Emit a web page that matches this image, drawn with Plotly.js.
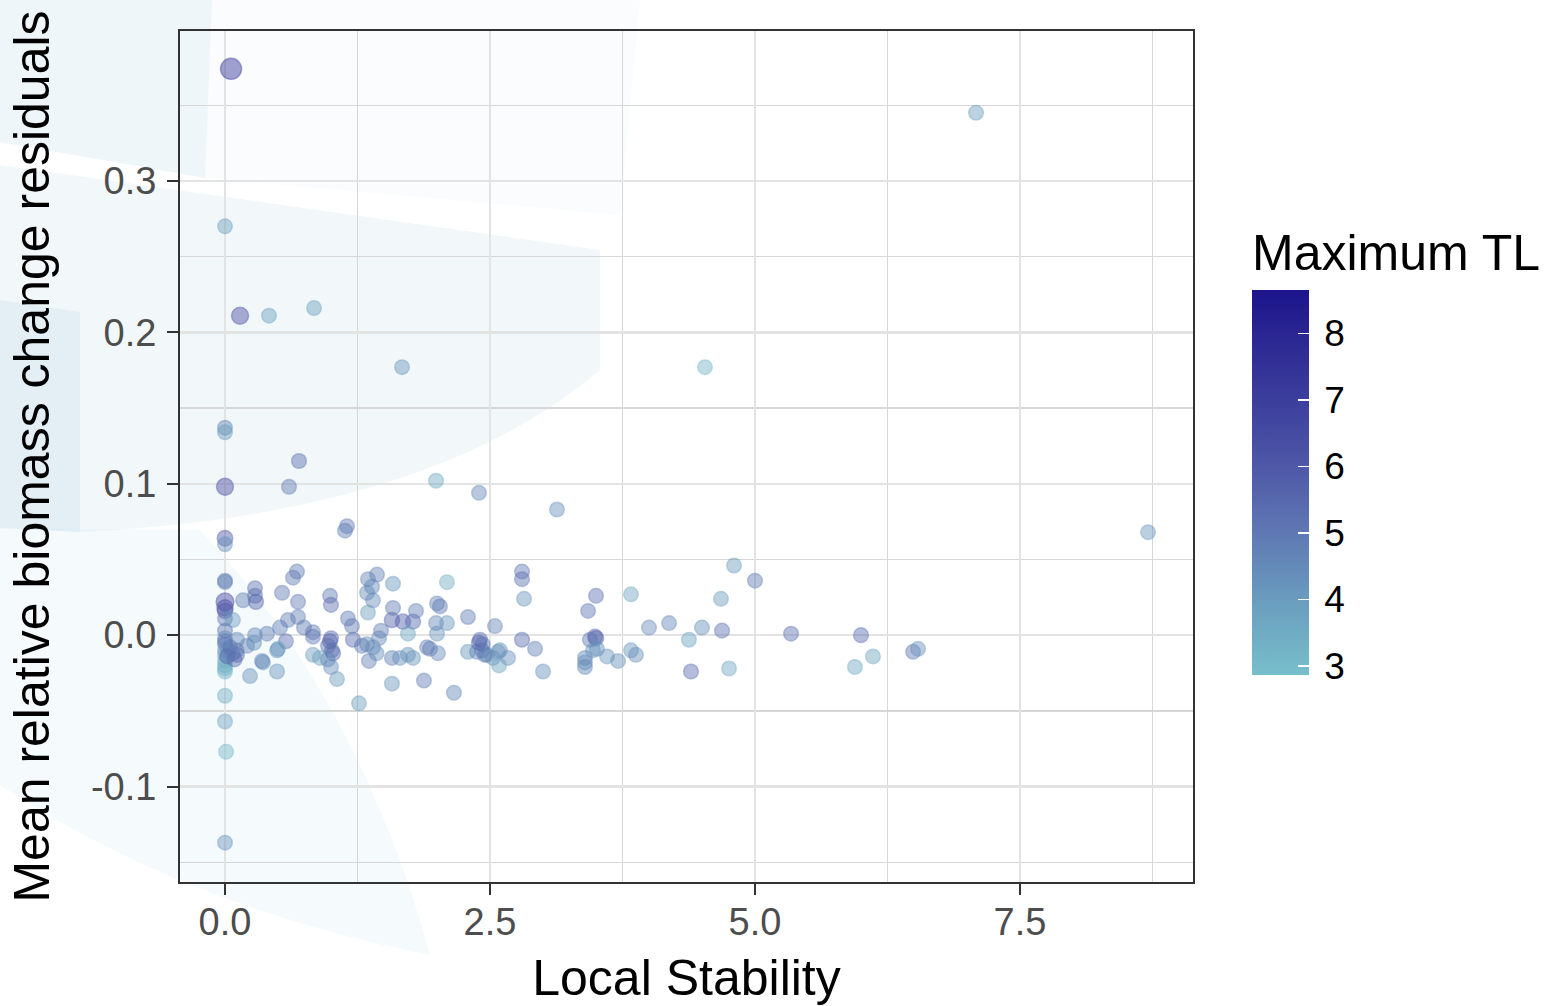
<!DOCTYPE html>
<html>
<head>
<meta charset="utf-8">
<script src="https://cdn.plot.ly/plotly-3.0.1.min.js"></script>
<style>
  html, body { margin: 0; padding: 0; background: #ffffff; }
  #chart { width: 1545px; height: 1006px; }
</style>
</head>
<body>
<div id="chart"></div>
<script>
// Local stability of each food web (x), mean relative biomass change residual (y)
// and the maximum trophic level of the web (colour).
const stability = [
  0.057, 0.000, 0.142, 0.415, 0.840, 7.085, 1.670, 4.528, 0.000, 0.000,
  0.698, 0.000, 0.604, 1.991, 2.396, 3.132, 1.151, 1.132, 0.000, 0.000,
  8.708, 0.000, 0.000, 0.679, 0.642, 1.349, 1.434, 1.387, 1.340, 1.396,
  1.349, 1.585, 2.094, 2.802, 2.802, 2.821, 4.802, 5.000, 0.283, 0.283,
  0.292, 0.538, 0.991, 1.000, 3.500, 3.425, 3.830, 4.679, 0.000, 0.000,
  0.000, 0.000, 0.170, 0.075, 0.000, 0.689, 0.689, 0.594, 0.519, 0.396,
  0.283, 0.208, 0.274, 0.113, 0.575, 0.500, 0.358, 0.236, 0.491, 0.745,
  0.830, 0.830, 0.830, 0.896, 1.000, 0.972, 1.009, 1.000, 1.057, 1.160,
  1.198, 1.208, 1.292, 1.358, 1.396, 1.472, 1.453, 1.264, 1.575, 1.679,
  1.774, 1.585, 1.802, 2.000, 2.028, 1.726, 2.000, 1.991, 2.094, 2.292,
  2.547, 1.575, 1.651, 1.726, 1.774, 1.575, 1.877, 2.160, 1.934, 2.009,
  1.906, 2.292, 2.377, 2.425, 2.472, 2.528, 2.575, 2.670, 2.585, 2.406,
  2.396, 2.802, 2.925, 3.000, 2.594, 0.000, 0.000, 0.030, 0.075, 0.113,
  0.000, 0.000, 0.000, 0.000, 0.000, 0.000, 0.000, 0.000, 0.010, 0.000,
  0.050, 0.349, 0.491, 3.500, 3.491, 3.443, 3.509, 3.472, 3.396, 3.396,
  3.396, 3.604, 3.708, 3.830, 3.877, 4.000, 4.189, 4.500, 4.689, 4.377,
  4.396, 4.755, 5.340, 6.000, 6.113, 5.943, 6.491, 6.538, 0.000, 0.020,
  0.090, 0.110, 0.990, 1.020, 0.970, 1.340, 1.430, 2.430, 2.450
];
const residual = [
  0.374, 0.270, 0.211, 0.211, 0.216, 0.345, 0.177, 0.177, 0.137, 0.134,
  0.115, 0.098, 0.098, 0.102, 0.094, 0.083, 0.072, 0.069, 0.064, 0.060,
  0.068, 0.036, 0.035, 0.042, 0.038, 0.037, 0.040, 0.032, 0.028, 0.023,
  0.015, 0.034, 0.035, 0.042, 0.037, 0.024, 0.046, 0.036, 0.031, 0.026,
  0.022, 0.028, 0.026, 0.020, 0.026, 0.016, 0.027, 0.024, 0.022, 0.018,
  0.016, 0.011, 0.023, 0.010, 0.003, 0.022, 0.012, 0.010, 0.005, 0.001,
  0.000, -0.007, -0.005, -0.003, -0.004, -0.009, -0.018, -0.027, -0.024, 0.005,
  0.002, -0.001, -0.013, -0.015, -0.002, -0.007, -0.010, -0.021, -0.029, 0.011,
  0.006, -0.003, -0.007, -0.017, -0.008, 0.003, -0.002, -0.045, 0.010, 0.009,
  0.009, 0.018, 0.016, 0.021, 0.019, 0.001, 0.001, 0.008, 0.008, 0.012,
  0.006, -0.015, -0.015, -0.013, -0.015, -0.032, -0.030, -0.038, -0.009, -0.012,
  -0.008, -0.011, -0.011, -0.010, -0.013, -0.015, -0.011, -0.015, -0.020, -0.003,
  -0.005, -0.003, -0.009, -0.024, -0.010, -0.002, -0.006, -0.010, -0.012, -0.013,
  -0.010, -0.013, -0.017, -0.020, -0.022, -0.024, -0.040, -0.057, -0.077, -0.137,
  -0.008, -0.017, -0.010, -0.002, -0.001, -0.003, -0.009, -0.010, -0.015, -0.018,
  -0.021, -0.014, -0.017, -0.010, -0.013, 0.005, 0.008, 0.005, 0.003, -0.003,
  -0.024, -0.022, 0.001, 0.000, -0.014, -0.021, -0.011, -0.009, -0.004, -0.014,
  -0.016, -0.010, -0.004, -0.012, -0.016, -0.006, -0.012, -0.006, -0.013
];
const maxTL = [
  7.6, 3.9, 6.6, 4.0, 3.9, 4.0, 4.2, 3.3, 4.6, 4.0,
  5.4, 6.6, 5.0, 3.5, 4.6, 4.3, 5.0, 4.8, 6.0, 4.4,
  4.2, 5.0, 4.6, 5.0, 4.9, 4.7, 4.8, 4.6, 4.5, 4.5,
  4.0, 4.2, 3.5, 5.0, 5.2, 4.2, 4.0, 5.0, 5.2, 5.3,
  5.6, 5.0, 5.0, 5.3, 5.2, 5.1, 3.7, 4.0, 6.8, 6.3,
  5.8, 5.0, 4.8, 4.0, 5.0, 5.0, 4.8, 4.8, 4.8, 4.8,
  4.6, 4.6, 4.4, 4.5, 5.2, 3.8, 4.4, 4.3, 4.2, 5.0,
  5.0, 5.0, 4.0, 3.8, 5.4, 5.2, 5.0, 4.4, 4.0, 5.0,
  5.0, 5.4, 5.0, 4.8, 4.4, 4.8, 4.6, 4.0, 5.8, 5.8,
  5.6, 5.0, 4.8, 4.7, 4.9, 3.8, 4.2, 4.6, 4.2, 4.8,
  4.6, 4.8, 4.3, 4.3, 4.2, 4.2, 4.9, 4.6, 5.0, 4.5,
  4.8, 4.2, 4.7, 5.0, 4.5, 4.2, 4.0, 4.4, 3.8, 5.3,
  5.6, 5.4, 4.8, 4.3, 4.4, 4.5, 5.2, 4.8, 5.2, 5.3,
  4.0, 3.8, 3.6, 3.4, 3.3, 3.2, 3.4, 3.7, 3.1, 4.2,
  5.0, 4.6, 4.4, 5.8, 5.6, 5.0, 4.4, 4.2, 4.6, 4.4,
  4.6, 4.2, 4.3, 4.2, 4.4, 4.5, 4.6, 4.4, 5.2, 3.8,
  5.4, 3.6, 5.2, 5.4, 3.7, 3.6, 5.0, 4.3, 4.8, 5.5,
  5.4, 4.9, 5.6, 5.4, 4.6, 4.6, 4.4, 5.2, 4.8
];

const xTicks = [0, 2.5, 5, 7.5];
const yTicks = [-0.1, 0, 0.1, 0.2, 0.3];
const tlTicks = [3, 4, 5, 6, 7, 8];

// colour scale (light teal -> navy) expressed in trophic-level units
const TL_MIN = 2.865, TL_MAX = 8.65;
const gradientStops = [
  [2.865, '#77bfcb'], [4, '#6a9cbe'], [5, '#5f78b3'], [6, '#4e58a7'],
  [7, '#3c3e9c'], [8, '#2a2592'], [8.65, '#1b148c']
];
function hexToRgba(hex, a) {
  const n = parseInt(hex.slice(1), 16);
  return 'rgba(' + ((n >> 16) & 255) + ',' + ((n >> 8) & 255) + ',' + (n & 255) + ',' + a + ')';
}
const solidScale = gradientStops.map(s => [(s[0] - TL_MIN) / (TL_MAX - TL_MIN), s[1]]);
const alphaScale = gradientStops.map(s => [(s[0] - TL_MIN) / (TL_MAX - TL_MIN), hexToRgba(s[1], 0.64)]);

// webs with very long food chains are drawn a little larger
const pointSize = maxTL.map(t => 14.5 + 6.5 * Math.pow(Math.max(0, (t - 5) / 2.6), 2));

const FONT = 'Liberation Sans, Arial, Helvetica, sans-serif';

// page geometry
const W = 1545, H = 1006, ML = 180, MR = 352, MT = 31, MB = 124;
const PW = W - ML - MR, PH = H - MT - MB;
function paperX(x) { return (x - ML) / PW; }
function paperY(y) { return (H - MB - y) / PH; }

// colour bar box
const BAR_LEFT = 1252, BAR_W = 57, BAR_BOTTOM = 675, BAR_H = 385, BAR_TITLE = 61;

const points = {
  type: 'scatter', mode: 'markers',
  x: stability, y: residual,
  hoverinfo: 'skip', showlegend: false,
  marker: {
    color: maxTL, colorscale: alphaScale, cmin: TL_MIN, cmax: TL_MAX,
    size: pointSize, showscale: false,
    line: { color: maxTL, colorscale: alphaScale, cmin: TL_MIN, cmax: TL_MAX, width: 1.5 }
  }
};

// carries the colour bar only
const scaleCarrier = {
  type: 'scatter', mode: 'markers',
  x: stability, y: residual,
  hoverinfo: 'skip', showlegend: false,
  marker: {
    color: maxTL, colorscale: solidScale, cmin: TL_MIN, cmax: TL_MAX,
    opacity: 0, size: 1, showscale: true,
    colorbar: {
      thickness: BAR_W, thicknessmode: 'pixels',
      len: BAR_H + BAR_TITLE, lenmode: 'pixels',
      x: paperX(BAR_LEFT), xanchor: 'left', y: paperY(BAR_BOTTOM), yanchor: 'bottom',
      xpad: 0, ypad: 0, outlinewidth: 0,
      tickmode: 'array', tickvals: tlTicks, ticktext: tlTicks.map(t => '\u2009' + t),
      ticks: 'inside', ticklen: 11, tickwidth: 1.5, tickcolor: '#ffffff',
      tickfont: { family: FONT, size: 37, color: '#000000' },
      title: { text: 'Maximum TL', side: 'top', font: { family: FONT, size: 50, color: '#000000' } }
    }
  }
};

// white tick marks on the left edge of the colour bar
const barTicks = tlTicks.map(t => {
  const yy = BAR_BOTTOM - (t - TL_MIN) / (TL_MAX - TL_MIN) * BAR_H;
  return { type: 'line', xref: 'paper', yref: 'paper', layer: 'above',
    x0: paperX(BAR_LEFT), x1: paperX(BAR_LEFT + 11), y0: paperY(yy), y1: paperY(yy),
    line: { color: '#ffffff', width: 1.5 } };
});

// soft light-blue backdrop sweeping across the left side of the page
function px(x, y) { return paperX(x).toFixed(4) + ',' + paperY(y).toFixed(4); }
const backdrop = [
  { path: 'M' + px(0, 0) + ' L' + px(212, 0) + ' L' + px(205, 178) + ' L' + px(0, 142) + ' Z', fill: 'rgba(195,222,236,0.26)' },
  { path: 'M' + px(212, 0) + ' L' + px(640, 0) + ' L' + px(620, 215) + ' L' + px(205, 178) + ' Z', fill: 'rgba(210,230,242,0.10)' },
  { path: 'M' + px(0, 165) + ' L' + px(600, 250) + ' L' + px(600, 370) + ' Q' + px(430, 515) + ' ' + px(80, 532) + ' L' + px(0, 528) + ' Z', fill: 'rgba(190,218,232,0.20)' },
  { path: 'M' + px(0, 300) + ' L' + px(80, 312) + ' L' + px(80, 532) + ' L' + px(0, 528) + ' Z', fill: 'rgba(175,208,224,0.22)' },
  { path: 'M' + px(0, 528) + ' L' + px(200, 530) + ' Q' + px(360, 700) + ' ' + px(430, 955) + ' Q' + px(180, 905) + ' ' + px(0, 785) + ' Z', fill: 'rgba(210,230,245,0.22)' }
].map(s => ({ type: 'path', xref: 'paper', yref: 'paper', layer: 'below', path: s.path, fillcolor: s.fill, line: { width: 0 } }));

const axisCommon = {
  showline: true, mirror: true, linecolor: '#333333', linewidth: 2,
  ticks: 'outside', ticklen: 11, tickwidth: 2, tickcolor: '#333333',
  showgrid: true, gridcolor: '#e3e3e3', gridwidth: 2.5,
  zeroline: false, tickmode: 'array',
  tickfont: { family: FONT, size: 38, color: '#4d4d4d' }
};

const layout = {
  width: W, height: H,
  margin: { l: ML, r: MR, t: MT, b: MB, autoexpand: false },
  paper_bgcolor: '#ffffff', plot_bgcolor: 'rgba(0,0,0,0)',
  font: { family: FONT },
  shapes: backdrop.concat(barTicks),
  xaxis: Object.assign({}, axisCommon, {
    range: [-0.4245, 9.132],
    tickvals: xTicks, ticktext: xTicks.map(v => v.toFixed(1)),
    ticklabelstandoff: -6,
    minor: { tickmode: 'linear', tick0: 1.25, dtick: 2.5, showgrid: true, gridcolor: '#d6d6d6', gridwidth: 1.3, ticks: '' },
    title: { text: 'Local Stability', font: { family: FONT, size: 50, color: '#000000' }, standoff: 18 }
  }),
  yaxis: Object.assign({}, axisCommon, {
    range: [-0.163, 0.399],
    tickvals: yTicks, ticktext: yTicks.map(v => v.toFixed(1)),
    ticklabelstandoff: 3,
    minor: { tickmode: 'linear', tick0: 0.05, dtick: 0.1, showgrid: true, gridcolor: '#d6d6d6', gridwidth: 1.3, ticks: '' },
    title: { text: 'Mean relative biomass change residuals', font: { family: FONT, size: 50, color: '#000000' }, standoff: 25 }
  })
};

Plotly.newPlot('chart', [scaleCarrier, points], layout, { displayModeBar: false, staticPlot: true });
</script>
</body>
</html>
